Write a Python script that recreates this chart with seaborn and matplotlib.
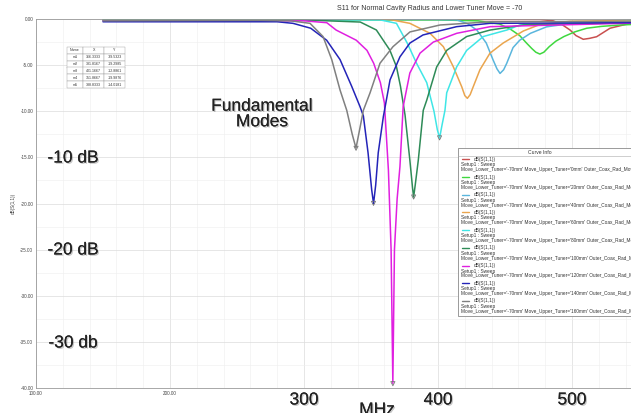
import numpy as np
import pandas as pd
import matplotlib
matplotlib.use("Agg")
import matplotlib.pyplot as plt
import matplotlib.patheffects as pe
from matplotlib.patches import Rectangle
from matplotlib.lines import Line2D
from matplotlib.ticker import MultipleLocator
import seaborn as sns

W, H = 631, 413

# ---------- data ----------
upper_moves = ["0mm", "20mm", "40mm", "60mm", "80mm", "100mm", "120mm", "140mm", "160mm"]
colors = ["#c9504f", "#3fd83f", "#5ab6dd", "#eaa54e", "#3fe6e6",
          "#2e8b57", "#e020e0", "#2424b8", "#808080"]

f_0mm = [150, 250, 350, 430, 476, 486, 492, 498.5, 503, 508.4, 513, 518.4, 528.4, 543.3]
db_0mm = [-0.05, -0.05, -0.05, -0.05, -0.05, -0.2, -0.55, -1.19, -1.8, -2.2, -2.1, -1.92, -1.0, -0.47]

f_20mm = [150, 300, 400, 430, 446, 454, 461, 466, 470, 473, 476, 479, 483, 488, 494, 502, 511, 522, 536, 544]
db_20mm = [-0.1, -0.1, -0.1, -0.2, -0.55, -1.1, -1.8, -2.6, -3.2, -3.6, -3.8, -3.6, -3.0, -2.4, -1.9,
           -1.4, -1.0, -0.8, -0.65, -0.6]

f_40mm = [150, 300, 394, 414, 422, 429, 436, 441, 444, 446.3, 449, 451.3, 456, 461, 469, 481, 498.5, 520, 544]
db_40mm = [-0.05, -0.05, -0.05, -0.1, -0.5, -1.2, -2.6, -4.4, -5.4, -5.9, -5.5, -4.8, -3.1, -2.3, -1.55,
           -0.85, -0.5, -0.2, -0.1]

f_60mm = [150, 300, 364, 379, 394, 404, 411.4, 417.7, 420, 421.9, 424, 426.3, 431.3, 438.8, 448.7, 463.7,
          476, 498.5, 544]
db_60mm = [-0.05, -0.05, -0.05, -0.47, -1.55, -3.0, -5.17, -7.34, -8.3, -8.6, -8.2, -7.34, -5.5, -3.7,
           -2.6, -1.3, -0.6, -0.25, -0.15]

f_80mm = [150, 300, 357, 369, 377, 384, 391.6, 397, 399.5, 401.2, 403, 405.2, 406.5, 413.9, 421.4, 433.8,
          451.3, 461.2, 500, 544]
db_80mm = [-0.1, -0.1, -0.1, -0.47, -2.6, -4.8, -6.9, -10.0, -12.0, -12.9, -11.5, -9.9, -8.0, -5.2, -3.4,
           -1.9, -1.2, -0.65, -0.4, -0.25]

f_100mm = [150, 300, 342, 354, 364, 369, 372, 375.4, 379, 381, 381.8, 383, 385.3, 389, 391.6, 399, 406.5,
           421.4, 438.8, 463.7, 544]
db_100mm = [-0.1, -0.1, -0.33, -1.19, -3.36, -5.17, -7.3, -10.4, -15.3, -18.3, -19.3, -18.0, -15.3, -9.9,
            -8.8, -5.2, -3.4, -1.9, -1.2, -0.65, -0.4]

f_120mm = [150, 300, 317, 324, 339, 347, 352, 357, 360, 363, 365, 366.3, 367.5, 369.5, 371.6, 374, 379,
           386.6, 396.5, 414, 439, 544]
db_120mm = [-0.2, -0.2, -0.4, -1.2, -2.3, -3.4, -4.8, -6.9, -9.1, -16.4, -25.0, -39.5, -25.0, -19.5, -16.0,
            -9.5, -5.85, -3.7, -2.5, -1.55, -0.83, -0.45]

f_140mm = [150, 280, 291.8, 305, 316.9, 326.9, 335.6, 341.8, 344.3, 347.8, 350.5, 351.9, 353.5, 355.4,
           359.2, 364.2, 371.6, 379.1, 388.8, 413.9, 438.8, 544]
db_140mm = [-0.3, -0.3, -0.47, -1.0, -2.3, -4.4, -7.3, -9.5, -10.5, -14.5, -18.5, -20.0, -18.0, -14.5,
            -10.6, -6.6, -4.1, -2.6, -1.73, -0.83, -0.47, -0.4]

f_160mm = [150, 267, 290, 304.5, 314.2, 320.7, 326.9, 331.9, 336, 338.8, 341.5, 344.3, 349.3, 356.7, 366.4,
           379.1, 401.5, 438.8, 544]
db_160mm = [-0.2, -0.15, -0.2, -0.47, -1.9, -4.4, -7.7, -9.9, -12.5, -14.0, -12.0, -9.9, -8.0, -4.8, -3.0,
            -1.4, -0.65, -0.3, -0.25]

freqs = [f_0mm, f_20mm, f_40mm, f_60mm, f_80mm, f_100mm, f_120mm, f_140mm, f_160mm]
dbs = [db_0mm, db_20mm, db_40mm, db_60mm, db_80mm, db_100mm, db_120mm, db_140mm, db_160mm]

marker_names = ["m1", "m2", "m3", "m4", "m5"]
marker_x = [366.3333, 381.8167, 401.1667, 351.8667, 338.8333]
marker_y = [-39.5323, -19.2985, -12.8861, -19.9876, -14.0181]

xticks = [100, 200, 300, 400, 500, 600, 700]
xtick_labels = ["100.00", "200.00", "", "", "", "", ""]
yticks = [0, -5, -10, -15, -20, -25, -30, -35, -40]
ytick_labels = ["0.00", "-5.00", "-10.00", "-15.00", "-20.00", "-25.00", "-30.00", "-35.00", "-40.00"]

big_x_labels = ["300", "400", "500"]
big_x_values = [300, 400, 500]
db_notes = ["-10 dB", "-20 dB", "-30 db"]

# ---------- long-form table ----------
rows = []
for move, f, d in zip(upper_moves, freqs, dbs):
    for fv, dv in zip(f, d):
        rows.append((move, fv, dv))
df = pd.DataFrame(rows, columns=["upper", "MHz", "dB"])

sns.set_theme(style="white")
plt.rcParams["font.family"] = ["Liberation Sans", "DejaVu Sans"]


def fx(px):
    return px / W


def fy(py):
    return 1 - py / H


fig = plt.figure(figsize=(W / 100, H / 100), dpi=100)
# axes run past the right edge of the picture (the reference is cropped)
ax = fig.add_axes([fx(36), fy(388), (840 - 36) / W, (388 - 19) / H])

sns.lineplot(data=df, x="MHz", y="dB", hue="upper", hue_order=upper_moves,
             palette=dict(zip(upper_moves, colors)), estimator=None, sort=False,
             linewidth=1.1, legend=False, ax=ax)

ax.scatter(marker_x, marker_y, marker="v", s=9, facecolors="none",
           edgecolors="#777777", linewidths=0.6, zorder=5)

ax.set_xlim(100, 700)
ax.set_ylim(-40, 0)
ax.set_xticks(xticks)
ax.set_xticklabels(xtick_labels, fontsize=3.3, color="#444444")
ax.set_yticks(yticks)
ax.set_yticklabels(ytick_labels, fontsize=3.3, color="#444444")
ax.xaxis.set_minor_locator(MultipleLocator(20))
ax.yaxis.set_minor_locator(MultipleLocator(2.5))
ax.tick_params(which="both", direction="in", length=2, width=0.4, color="#888888", pad=2)
ax.tick_params(which="minor", length=1.2)
ax.grid(which="major", color="#dcdcdc", linewidth=0.5)
ax.grid(which="minor", color="#eeeeee", linewidth=0.4)
ax.set_axisbelow(True)
for s in ax.spines.values():
    s.set_color("#9a9a9a")
    s.set_linewidth(0.6)
ax.set_xlabel("")
ax.set_ylabel("dB(S(1,1))", fontsize=3.3, color="#444444", labelpad=3)

fig.text(fx(430), fy(9), "S11 for Normal Cavity Radius and Lower Tuner Move = -70",
         fontsize=5, ha="center", va="center", color="#333333")

# ---------- marker table ----------
cell_text = [[n, f"{x:.4f}", f"{y:.4f}"] for n, x, y in zip(marker_names, marker_x, marker_y)]
tx0, tx1, ty0, ty1 = 67, 125, 47, 88
tab = ax.table(cellText=cell_text, colLabels=["Name", "X", "Y"], cellLoc="center",
               colWidths=[0.28, 0.36, 0.36],
               bbox=[(tx0 - 36) / 804, (388 - ty1) / 369, (tx1 - tx0) / 804, (ty1 - ty0) / 369])
tab.auto_set_font_size(False)
tab.set_fontsize(2.6)
for cell in tab.get_celld().values():
    cell.set_edgecolor("#9a9a9a")
    cell.set_linewidth(0.3)
    cell.get_text().set_color("#333333")
tab.set_zorder(6)

# ---------- curve info box ----------
bx0, by0, by1 = 458, 148, 316
fig.patches.append(Rectangle((fx(bx0), fy(by1)), (760 - bx0) / W, (by1 - by0) / H,
                             transform=fig.transFigure, facecolor="white",
                             edgecolor="#8a8a8a", linewidth=0.6))
fig.lines.append(Line2D([fx(bx0), fx(760)], [fy(156), fy(156)], transform=fig.transFigure,
                        color="#aaaaaa", linewidth=0.4))
fig.text(fx(540), fy(152), "Curve Info", fontsize=3.6, ha="center", va="center", color="#333333")
for i, (move, c) in enumerate(zip(upper_moves, colors)):
    y0 = 159.3 + 17.7 * i
    fig.lines.append(Line2D([fx(462), fx(469)], [fy(y0), fy(y0)], transform=fig.transFigure,
                            color=c, linewidth=1.0))
    fig.text(fx(474), fy(y0), "dB(S(1,1))", fontsize=3.4, va="center", color="#333333")
    fig.text(fx(461), fy(y0 + 5.6), "Setup1 : Sweep", fontsize=3.4, va="center", color="#333333")
    fig.text(fx(461), fy(y0 + 10.4),
             f"Move_Lower_Tuner='-70mm' Move_Upper_Tuner='{move}' Outer_Coax_Rad_Move=5mm",
             fontsize=3.4, va="center", color="#333333")

# ---------- big pasted annotations ----------
shadow = [pe.withSimplePatchShadow(offset=(0.9, -0.9), shadow_rgbFace="black", alpha=0.22), pe.Normal()]
fig.text(fx(262), fy(114), "Fundamental\nModes", fontsize=12.5, ha="center", va="center",
         color="#222222", linespacing=1.05, path_effects=shadow)
for note, py in zip(db_notes, [158, 250, 343]):
    fig.text(fx(73), fy(py), note, fontsize=12.5, ha="center", va="center",
             color="#222222", path_effects=shadow)
for lab, v in zip(big_x_labels, big_x_values):
    px = 36 + (v - 100) * 1.34
    fig.text(fx(px), fy(400), lab, fontsize=12.5, ha="center", va="center",
             color="#222222", path_effects=shadow)
fig.text(fx(377), fy(410), "MHz", fontsize=12.5, ha="center", va="center",
         color="#222222", path_effects=shadow)

fig.savefig("out.png", dpi=100)
